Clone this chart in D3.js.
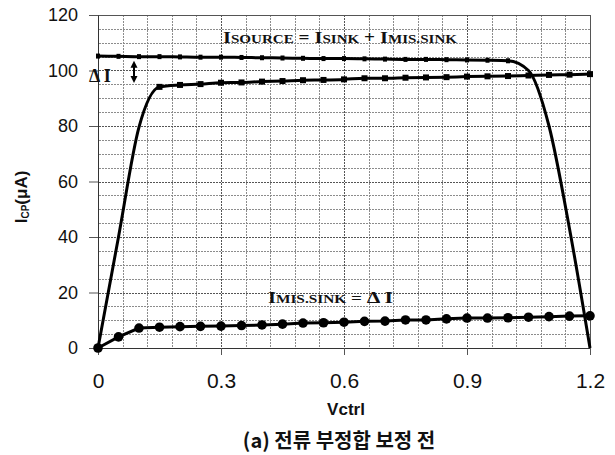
<!DOCTYPE html>
<html>
<head>
<meta charset="utf-8">
<script src="https://cdn.jsdelivr.net/npm/d3@7"></script>
</head>
<body style="margin:0">
<svg id="chart" width="615" height="455"></svg>
<script>
// Vctrl (V)
const vctrl = [0, 0.05, 0.1, 0.15, 0.2, 0.25, 0.3, 0.35, 0.4, 0.45, 0.5, 0.55, 0.6,
  0.65, 0.7, 0.75, 0.8, 0.85, 0.9, 0.95, 1.0, 1.05, 1.1, 1.15, 1.2];
// I_SOURCE (uA)
const isource = [105.2, 105.1, 105.0, 105.0, 104.9, 104.8, 104.8, 104.7, 104.6, 104.5, 104.4, 104.3,
  104.3, 104.2, 104.1, 104.0, 104.0, 103.9, 103.8, 103.7, 103.5, 100, 80, 43, 0];
// I_SINK (uA)
const isink = [0, 40, 79.6, 94.1, 94.8, 95.1, 95.6, 95.7, 96.0, 96.2, 96.5, 96.6, 96.8,
  97.2, 97.2, 97.4, 97.5, 97.6, 97.8, 97.9, 98.0, 98.2, 98.4, 98.5, 98.7];
// I_MIS.SINK (uA)
const imis = [0, 4, 7.2, 7.5, 7.7, 7.8, 7.9, 8.1, 8.3, 8.6, 9.0, 9.1, 9.3,
  9.6, 9.7, 10.1, 10.1, 10.5, 10.8, 10.8, 10.9, 11.1, 11.3, 11.5, 11.6];

const xTicks = [0, 0.3, 0.6, 0.9, 1.2];
const xTickLabels = ['0', '0.3', '0.6', '0.9', '1.2'];
const yTicks = [0, 20, 40, 60, 80, 100, 120];
const xGrid = [0, 0.06, 0.12, 0.18, 0.24, 0.3, 0.36, 0.42, 0.48, 0.54, 0.6, 0.66, 0.72,
  0.78, 0.84, 0.9, 0.96, 1.02, 1.08, 1.14, 1.2];
const yGrid = [0, 5, 10, 15, 20, 25, 30, 35, 40, 45, 50, 55, 60, 65, 70, 75, 80, 85, 90,
  95, 100, 105, 110, 115, 120];

const svg = d3.select('#chart');
svg.append('rect').attr('width', 615).attr('height', 455).attr('fill', '#fff');

const m = { left: 98, right: 590, top: 15, bottom: 348 };
const w = m.right - m.left, h = m.bottom - m.top;

const xs = d3.scaleLinear().domain([0, 1.2]).range([m.left, m.right]);
const ys = d3.scaleLinear().domain([0, 120]).range([m.bottom, m.top]);

// dotted fill patterns for the grid (filled 1px strips instead of strokes)
const defs = svg.append('defs');
defs.append('pattern').attr('id', 'dotV').attr('patternUnits', 'userSpaceOnUse')
  .attr('width', 1).attr('height', 3)
  .append('rect').attr('width', 1).attr('height', 2).attr('fill', '#8c8c8c');
defs.append('pattern').attr('id', 'dotH').attr('patternUnits', 'userSpaceOnUse')
  .attr('width', 3).attr('height', 1)
  .append('rect').attr('width', 2).attr('height', 1).attr('fill', '#8c8c8c');
defs.append('pattern').attr('id', 'dotVm').attr('patternUnits', 'userSpaceOnUse')
  .attr('width', 1).attr('height', 3)
  .append('rect').attr('width', 1).attr('height', 2).attr('fill', '#555');
defs.append('pattern').attr('id', 'dotHm').attr('patternUnits', 'userSpaceOnUse')
  .attr('width', 3).attr('height', 1)
  .append('rect').attr('width', 2).attr('height', 1).attr('fill', '#555');

const isMajorX = d => xTicks.some(t => Math.abs(t - d) < 1e-6);
const gridLayer = svg.append('g');
gridLayer.selectAll('rect.vg')
  .data(xGrid)
  .join('rect')
  .attr('class', 'vg')
  .attr('x', d => Math.round(xs(d))).attr('y', m.top)
  .attr('width', 1).attr('height', h)
  .attr('fill', d => isMajorX(d) ? 'url(#dotVm)' : 'url(#dotV)');
gridLayer.selectAll('rect.hg')
  .data(yGrid)
  .join('rect')
  .attr('class', 'hg')
  .attr('x', m.left).attr('y', d => Math.round(ys(d)))
  .attr('width', w).attr('height', 1)
  .attr('fill', d => d % 20 === 0 ? 'url(#dotHm)' : 'url(#dotH)');

// frame top and right edges as filled strips
gridLayer.append('rect')
  .attr('x', m.left).attr('y', m.top).attr('width', w + 1).attr('height', 1).attr('fill', '#555');
gridLayer.append('rect')
  .attr('x', m.right).attr('y', m.top).attr('width', 1).attr('height', h).attr('fill', '#555');

// axes
const xAxisG = svg.append('g')
  .attr('transform', 'translate(0,' + m.bottom + ')')
  .call(d3.axisBottom(xs).tickValues(xTicks).tickFormat((d, i) => xTickLabels[i])
    .tickSize(7).tickSizeOuter(0).tickPadding(18));
xAxisG.selectAll('text')
  .attr('font-size', 21).attr('font-family', '"Liberation Sans", Arial, sans-serif').attr('fill', '#111');

const yAxisG = svg.append('g')
  .attr('transform', 'translate(' + m.left + ',0)')
  .call(d3.axisLeft(ys).tickValues(yTicks).tickSize(9).tickSizeOuter(0).tickPadding(11));
yAxisG.selectAll('text')
  .attr('font-size', 18).attr('font-family', '"Liberation Sans", Arial, sans-serif').attr('fill', '#111');

xAxisG.select('.domain').attr('stroke', '#333');
yAxisG.select('.domain').attr('stroke', '#333');
xAxisG.selectAll('.tick line').attr('stroke', '#555');
yAxisG.selectAll('.tick line').attr('stroke', '#555');

// series
const pts = (vals) => vctrl.map((v, i) => [v, vals[i]]);
const smooth = d3.line().x(d => xs(d[0])).y(d => ys(d[1])).curve(d3.curveMonotoneX);
const straight = d3.line().x(d => xs(d[0])).y(d => ys(d[1]));

const seriesLayer = svg.append('g');

seriesLayer.append('path')
  .attr('d', smooth(pts(isource)))
  .attr('fill', 'none').attr('stroke', '#000').attr('stroke-width', 3);
seriesLayer.append('g').selectAll('rect')
  .data(pts(isource).slice(0, 21))
  .join('rect')
  .attr('x', d => xs(d[0]) - 2).attr('y', d => ys(d[1]) - 2.5)
  .attr('width', 4).attr('height', 5).attr('fill', '#000');

seriesLayer.append('path')
  .attr('d', smooth(pts(isink)))
  .attr('fill', 'none').attr('stroke', '#000').attr('stroke-width', 3);
seriesLayer.append('g').selectAll('rect')
  .data(pts(isink).slice(3))
  .join('rect')
  .attr('x', d => xs(d[0]) - 3).attr('y', d => ys(d[1]) - 3)
  .attr('width', 6).attr('height', 6).attr('fill', '#000');

seriesLayer.append('path')
  .attr('d', straight(pts(imis)))
  .attr('fill', 'none').attr('stroke', '#000').attr('stroke-width', 3);
seriesLayer.append('g').selectAll('circle')
  .data(pts(imis))
  .join('circle')
  .attr('cx', d => xs(d[0])).attr('cy', d => ys(d[1]))
  .attr('r', 4.8).attr('fill', '#000');

// annotations
const serif = '"Liberation Serif", "DejaVu Serif", serif';
function capsLabel(parts, tx, ty, len) {
  const t = svg.append('text')
    .attr('x', tx).attr('y', ty)
    .attr('font-family', serif).attr('font-weight', 'bold').attr('fill', '#111')
    .attr('textLength', len).attr('lengthAdjust', 'spacingAndGlyphs');
  parts.forEach(p => {
    t.append('tspan').attr('font-size', p[1]).text(p[0]);
  });
}

capsLabel([['I', 17], ['SOURCE', 12.5], [' = ', 16], ['I', 17], ['SINK', 12.5],
  [' + ', 16], ['I', 17], ['MIS.SINK', 12.5]], 223, 43, 234);
capsLabel([['I', 16], ['MIS.SINK', 12], [' = ', 15], ['Δ I', 17]], 268, 303, 125);

svg.append('text')
  .attr('x', 89).attr('y', 82)
  .attr('font-family', serif).attr('font-weight', 'bold').attr('font-size', 18)
  .attr('fill', '#111')
  .text('Δ I');

// double arrow for delta I
const arrowX = 134;
const yTopA = ys(104.2) + 2, yBotA = ys(95.1) - 1;
svg.append('line')
  .attr('x1', arrowX).attr('x2', arrowX)
  .attr('y1', yTopA + 3).attr('y2', yBotA - 3)
  .attr('stroke', '#000').attr('stroke-width', 2);
svg.append('path')
  .attr('d', 'M' + (arrowX - 3.5) + ',' + (yTopA + 7) + 'L' + arrowX + ',' + yTopA +
    'L' + (arrowX + 3.5) + ',' + (yTopA + 7) + 'Z')
  .attr('fill', '#000');
svg.append('path')
  .attr('d', 'M' + (arrowX - 3.5) + ',' + (yBotA - 7) + 'L' + arrowX + ',' + yBotA +
    'L' + (arrowX + 3.5) + ',' + (yBotA - 7) + 'Z')
  .attr('fill', '#000');

// axis titles
const yTitle = svg.append('text')
  .attr('transform', 'translate(27,197) rotate(-90)')
  .attr('text-anchor', 'middle')
  .attr('font-family', '"Liberation Sans", Arial, sans-serif')
  .attr('font-weight', 'bold').attr('fill', '#111');
yTitle.append('tspan').attr('font-size', 17).text('I');
yTitle.append('tspan').attr('font-size', 10).attr('dy', 2).text('CP');
yTitle.append('tspan').attr('font-size', 17).attr('dy', -2).text('(μA)');

svg.append('text')
  .attr('x', 346).attr('y', 415)
  .attr('text-anchor', 'middle')
  .attr('font-family', '"Liberation Sans", Arial, sans-serif')
  .attr('font-weight', 'bold').attr('font-size', 17).attr('fill', '#111')
  .text('Vctrl');

svg.append('text')
  .attr('x', 339).attr('y', 448)
  .attr('text-anchor', 'middle')
  .attr('font-family', '"Noto Sans CJK KR", sans-serif')
  .attr('font-weight', 'bold').attr('font-size', 20).attr('fill', '#111')
  .text('(a) 전류 부정합 보정 전');
</script>
</body>
</html>
